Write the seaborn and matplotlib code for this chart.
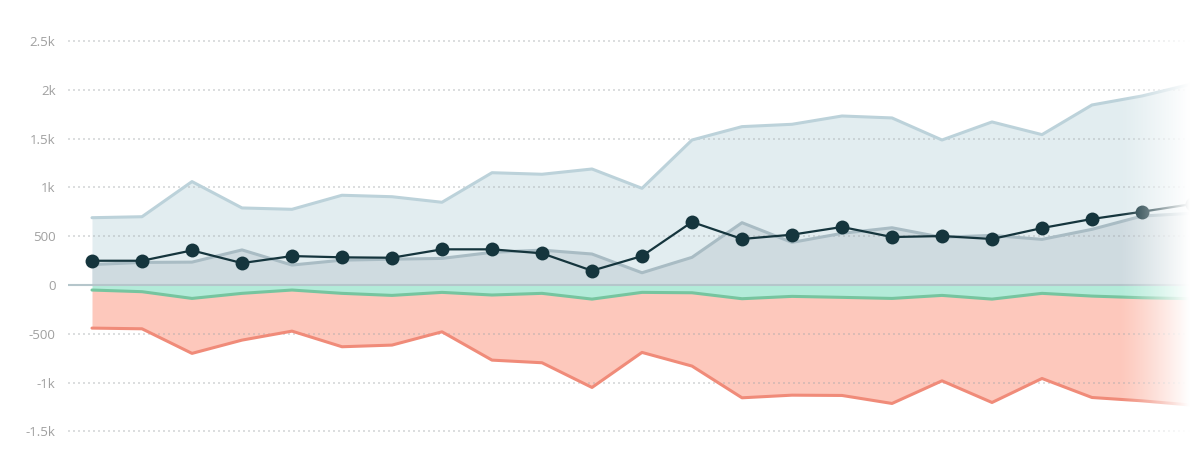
import numpy as np
import pandas as pd
import matplotlib
matplotlib.use("Agg")
import matplotlib.pyplot as plt
import seaborn as sns

# ---- data ----
periods = list(range(23))
upper_total = [690, 700, 1060, 790, 776, 920, 905, 848, 1151, 1135, 1189, 991, 1486,
               1623, 1647, 1732, 1712, 1486, 1671, 1541, 1845, 1937, 2060]
inner_total = [210, 232, 235, 360, 205, 255, 265, 273, 335, 358, 318, 126, 284,
               639, 437, 530, 587, 489, 509, 468, 571, 707, 735]
net_line = [249, 249, 355, 225, 297, 284, 280, 366, 366, 325, 147, 297, 646,
            472, 516, 595, 492, 502, 472, 584, 677, 751, 830]
green_neg = [-51, -68, -137, -85, -51, -85, -106, -75, -102, -85, -144, -75, -79,
             -140, -116, -126, -137, -106, -144, -85, -113, -130, -140]
red_neg = [-441, -448, -700, -564, -472, -632, -615, -479, -769, -796, -1049, -690, -830,
           -1155, -1128, -1131, -1213, -981, -1203, -957, -1152, -1186, -1230]
red_segment = [r - g for r, g in zip(red_neg, green_neg)]
yticks = [-1500, -1000, -500, 0, 500, 1000, 1500, 2000, 2500]
ytick_labels = ["-1.5k", "-1k", "-500", "0", "500", "1k", "1.5k", "2k", "2.5k"]

df = pd.DataFrame({"x": periods, "upper": upper_total, "inner": inner_total,
                   "net": net_line, "green": green_neg, "red_seg": red_segment})
df["red_bottom"] = df["green"] + df["red_seg"]

sns.set_style("white")
plt.rcParams["font.family"] = ["Open Sans", "DejaVu Sans"]

fig = plt.figure(figsize=(12, 4.72), dpi=100)
ax = fig.add_axes([68 / 1200, 21 / 472, 1 - 68 / 1200, (451 - 21.5) / 472])

# positive areas
ax.fill_between(df["x"], 0, df["upper"], color="#e2edf0", lw=0, zorder=1)
ax.fill_between(df["x"], 0, df["inner"], color="#cfdbe0", lw=0, zorder=2)

# negative stacked areas
ax.fill_between(df["x"], 0, df["green"], color="#b3ebd9", lw=0, zorder=2)
ax.fill_between(df["x"], df["green"], df["red_bottom"], color="#fdc8bc", lw=0, zorder=2)

# gridlines (drawn over the fills, faint)
for t in yticks:
    if t == 0:
        continue
    ax.axhline(t, color="#a3a8ab", alpha=0.45, lw=1.2, linestyle=(0, (1.2, 1.8)), zorder=2.5)

sns.lineplot(data=df, x="x", y="upper", ax=ax, color="#bcd2da", lw=2.2, zorder=3)
sns.lineplot(data=df, x="x", y="inner", ax=ax, color="#a9bcc4", lw=2.2, zorder=3)
sns.lineplot(data=df, x="x", y="green", ax=ax, color="#76c59f", lw=2.2, zorder=3)
sns.lineplot(data=df, x="x", y="red_bottom", ax=ax, color="#f08b79", lw=2.2, zorder=3)

ax.axhline(0, color="#b5c6cb", lw=1.5, zorder=3)

# net line with markers
sns.lineplot(data=df, x="x", y="net", ax=ax, color="#15353d", lw=1.6, zorder=5,
             marker="o", markersize=10, markeredgewidth=0, markerfacecolor="#15353d")

ax.set_yticks(yticks)
ax.set_yticklabels(ytick_labels)
ax.set_xticks([])
ax.set_xlabel("")
ax.set_ylabel("")
ax.tick_params(axis="y", length=0, pad=9, labelsize=9.5, labelcolor="#a0a0a0")
for s in ax.spines.values():
    s.set_visible(False)

# right-side white fade
xs = np.linspace(0, 1, 600)
a0 = (1120 - 68) / 1132
a1 = (1190 - 68) / 1132
alpha = np.clip((xs - a0) / (a1 - a0), 0, 1) ** 1.2
grad = np.ones((1, 600, 4))
grad[0, :, 3] = alpha
ax.imshow(grad, extent=[0, 1, 0, 1], transform=ax.transAxes, aspect="auto",
          zorder=10, interpolation="bilinear")
ax.set_xlim(-0.48, 22.16)
ax.set_ylim(-1700, 2700)

fig.savefig("out.png", dpi=100, facecolor="white")
